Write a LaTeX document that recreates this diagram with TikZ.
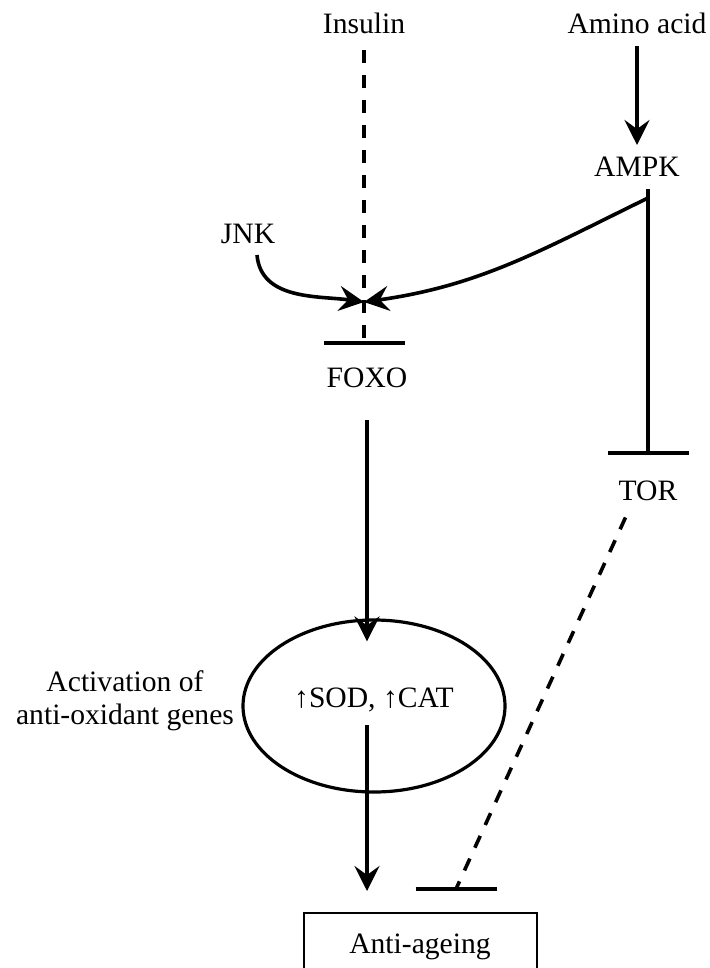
\documentclass[tikz,border=0pt]{standalone}
\usepackage{fontspec}
\setmainfont{Liberation Serif}
\usetikzlibrary{arrows.meta,shapes.geometric}
\newcommand{\lbfont}{\fontsize{14.8}{16.5}\selectfont}
\tikzset{
  lbl/.style={font=\lbfont, inner sep=0pt, outer sep=6pt, text height=10pt, text depth=0pt},
  act/.style={line width=1.8pt, -{Stealth[length=12.5pt,width=12.5pt,inset=4.5pt]}},
  inhib/.style={line width=1.8pt, -{Bar[width=40.5pt,line width=2pt]}},
  dashline/.style={line width=1.8pt, dash pattern=on 6.5pt off 6pt},
}
\begin{document}
\begin{tikzpicture}[x=0.5pt, y=-0.5pt]
  \useasboundingbox (0,0) rectangle (709,968);
  % signals and targets
  \node[lbl] (insulin) at (364,24) {Insulin};
  \node[lbl] (amino) at (637,24) {Amino acid};
  \node[lbl] (ampk) at (637,167) {AMPK};
  \node[lbl] (jnk) at (248,233) {JNK};
  \node[lbl] (foxo) at (367,377) {FOXO};
  \node[lbl] (tor) at (648,490) {TOR};
  \node[ellipse, draw, line width=1.6pt, minimum width=131pt, minimum height=86pt,
        font=\lbfont, inner sep=0pt, text height=10pt, text depth=9pt] (sod) at (374,706) {↑SOD, ↑CAT};
  \node[font=\lbfont, align=center, inner sep=0pt] (actv) at (125,701) {Activation of\\anti-oxidant genes};
  \node[draw, line width=1pt, minimum width=116.5pt, minimum height=30pt,
        font=\lbfont, text height=10pt, text depth=0pt] (anti) at (420,943) {Anti-ageing};
  \coordinate (hub) at (364,302);
  \coordinate (fork) at (648,198);
  \coordinate (tbar) at (456,889);
  % connectors
  \draw[dashline, -{Bar[width=40.5pt,line width=2pt]}, shorten <=2pt, shorten >=5pt]
    (insulin.south) -- (insulin |- foxo.north);
  \draw[act] (amino) -- (ampk);
  \draw[inhib, shorten >=6.5pt] (ampk.south -| tor) -- (tor.north);
  \draw[act] ([xshift=4.5pt]jnk.south) to[out=-85, in=172] (hub);
  \draw[act] (fork) to[out=206, in=8] (hub);
  \draw[act, shorten <=10.5pt, shorten >=-11.5pt] (foxo.south) -- (foxo.south |- sod.north);
  \draw[act, shorten <=9.5pt, shorten >=10.5pt] (foxo |- sod.center) -- (foxo |- anti.north);
  \draw[dashline, shorten <=3pt] ([xshift=-10pt]tor.south) -- (tbar);
  \draw[line width=2pt] ([xshift=-20.25pt]tbar) -- ([xshift=20.25pt]tbar);
\end{tikzpicture}
\end{document}
